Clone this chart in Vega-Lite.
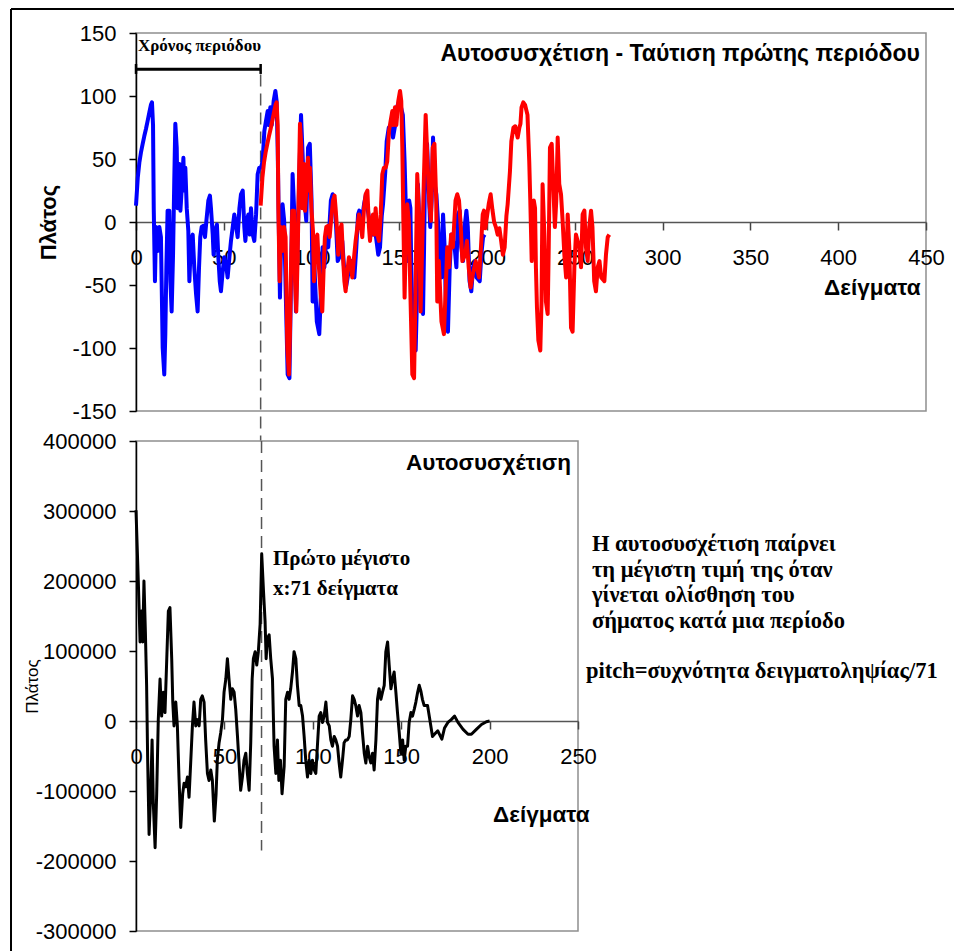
{
  "$schema": "https://vega.github.io/schema/vega-lite/v6.json",
  "autosize": {"type": "pad"},
  "padding": {"left": 9, "top": 7, "right": 0, "bottom": 0},
  "background": "white",
  "spacing": 30,
  "bounds": "flush",
  "config": {
    "view": {"stroke": "#8f8f8f", "strokeWidth": 1.5},
    "axis": {
      "grid": false,
      "labelFont": "Liberation Sans",
      "labelFontSize": 22,
      "labelColor": "black",
      "titleFont": "Liberation Sans",
      "titleColor": "black",
      "labelOverlap": false,
      "labelBound": false,
      "labelFlush": false
    },
    "text": {"color": "black"}
  },
  "datasets": {
    "one": [{}],
    "blue": [
      {"n":0,"v":13},{"n":1,"v":35},{"n":1.9,"v":47},{"n":2.8,"v":55},{"n":3.8,"v":62},{"n":4.7,"v":68},{"n":5.7,"v":74},{"n":6.6,"v":80},{"n":7.6,"v":87},{"n":8.5,"v":93},{"n":9.1,"v":95},{"n":9.7,"v":77},{"n":10.1,"v":11},{"n":10.8,"v":-47},{"n":11.4,"v":-4},{"n":12.3,"v":-23},{"n":13.3,"v":-4},{"n":14.2,"v":-12},{"n":14.6,"v":-47},{"n":15.2,"v":-100},{"n":16.1,"v":-121},{"n":16.7,"v":-89},{"n":17.3,"v":-36},{"n":18,"v":9},{"n":19,"v":9},{"n":19.6,"v":-47},{"n":20.3,"v":-71},{"n":21.1,"v":-26},{"n":21.8,"v":33},{"n":22.4,"v":78},{"n":23.2,"v":59},{"n":23.7,"v":11},{"n":24.7,"v":46},{"n":25.3,"v":9},{"n":26,"v":25},{"n":27,"v":51},{"n":27.5,"v":25},{"n":28.1,"v":43},{"n":28.9,"v":11},{"n":29.8,"v":-7},{"n":30.4,"v":-47},{"n":31.3,"v":-15},{"n":32.3,"v":-10},{"n":33.2,"v":-36},{"n":34.2,"v":-57},{"n":35.1,"v":-71},{"n":35.9,"v":-36},{"n":36.6,"v":-12},{"n":37.4,"v":-4},{"n":38.5,"v":-3},{"n":39.3,"v":-12},{"n":40.1,"v":1},{"n":41.2,"v":17},{"n":42.1,"v":21},{"n":42.7,"v":11},{"n":43.7,"v":-10},{"n":44.2,"v":-26},{"n":45,"v":-7},{"n":46.1,"v":-2},{"n":46.9,"v":-28},{"n":47.7,"v":-47},{"n":48.4,"v":-55},{"n":49.4,"v":-39},{"n":50.3,"v":-28},{"n":51.3,"v":-34},{"n":52.2,"v":-44},{"n":53.2,"v":-28},{"n":54.1,"v":-15},{"n":55.1,"v":-4},{"n":56,"v":6},{"n":56.9,"v":-2},{"n":57.9,"v":-12},{"n":58.9,"v":11},{"n":59.8,"v":22},{"n":60.8,"v":25},{"n":61.7,"v":-4},{"n":62.3,"v":-15},{"n":63.2,"v":1},{"n":64,"v":6},{"n":64.8,"v":-10},{"n":65.5,"v":11},{"n":66.5,"v":-10},{"n":67.4,"v":-15},{"n":68.4,"v":6},{"n":69.3,"v":38},{"n":70.2,"v":43},{"n":71.2,"v":43},{"n":72.1,"v":48},{"n":73.1,"v":72},{"n":74,"v":80},{"n":75,"v":88},{"n":75.6,"v":77},{"n":76.5,"v":91},{"n":77.3,"v":77},{"n":78.4,"v":96},{"n":79.4,"v":104},{"n":80.1,"v":96},{"n":80.7,"v":59},{"n":81.3,"v":1},{"n":82,"v":-60},{"n":82.6,"v":-20},{"n":83.5,"v":14},{"n":84.4,"v":1},{"n":85.3,"v":-57},{"n":86.4,"v":-121},{"n":87.4,"v":-124},{"n":88,"v":-73},{"n":89.2,"v":38},{"n":90.2,"v":6},{"n":91.1,"v":-71},{"n":92,"v":-20},{"n":93,"v":35},{"n":94,"v":85},{"n":95,"v":50},{"n":96,"v":17},{"n":97,"v":1},{"n":98,"v":59},{"n":99,"v":62},{"n":100,"v":17},{"n":100.6,"v":-63},{"n":101.5,"v":-31},{"n":103,"v":-79},{"n":104.4,"v":-89},{"n":105.3,"v":-57},{"n":106.3,"v":-20},{"n":107.3,"v":-36},{"n":108.5,"v":-10},{"n":109.5,"v":-20},{"n":111,"v":17},{"n":112,"v":22},{"n":113,"v":17},{"n":114,"v":-4},{"n":114.9,"v":-31},{"n":116.5,"v":-26},{"n":117.5,"v":-15},{"n":118.5,"v":-36},{"n":119.6,"v":-52},{"n":120.8,"v":-42},{"n":122.5,"v":-31},{"n":124.4,"v":-44},{"n":125.5,"v":-20},{"n":126.5,"v":6},{"n":127.2,"v":9},{"n":128,"v":-5},{"n":129,"v":5},{"n":130,"v":15},{"n":131,"v":22},{"n":132,"v":10},{"n":133,"v":0},{"n":134,"v":-4},{"n":135,"v":-10},{"n":136,"v":-5},{"n":137,"v":-15},{"n":138,"v":-26},{"n":139,"v":-20},{"n":140,"v":5},{"n":140.7,"v":14},{"n":142,"v":40},{"n":142.8,"v":64},{"n":144,"v":75},{"n":145,"v":76},{"n":146.4,"v":67},{"n":147.4,"v":75},{"n":148,"v":78},{"n":148.6,"v":91},{"n":149.6,"v":95},{"n":150.6,"v":93},{"n":152,"v":85},{"n":153,"v":48},{"n":153.6,"v":17},{"n":154.4,"v":-31},{"n":155.6,"v":17},{"n":156.3,"v":11},{"n":156.8,"v":-36},{"n":157.4,"v":-68},{"n":158.2,"v":-94},{"n":159.3,"v":-102},{"n":160,"v":-63},{"n":160.6,"v":30},{"n":161.6,"v":-10},{"n":162.5,"v":-63},{"n":163.5,"v":-73},{"n":164.1,"v":-20},{"n":164.8,"v":59},{"n":165.8,"v":62},{"n":166.3,"v":43},{"n":167.6,"v":-4},{"n":168.4,"v":17},{"n":169.2,"v":67},{"n":170.1,"v":30},{"n":171.1,"v":22},{"n":172,"v":1},{"n":173,"v":-26},{"n":174,"v":-44},{"n":174.9,"v":6},{"n":175.8,"v":-20},{"n":176.8,"v":-84},{"n":177.7,"v":-87},{"n":178.7,"v":-36},{"n":179.6,"v":-10},{"n":181.5,"v":-20},{"n":182.5,"v":-36},{"n":183.4,"v":6},{"n":184.4,"v":9},{"n":185.3,"v":-20},{"n":186.3,"v":-31},{"n":187.2,"v":-4},{"n":188.2,"v":9},{"n":189,"v":-4},{"n":190,"v":-47},{"n":191,"v":-55},{"n":192,"v":-36},{"n":193,"v":-31},{"n":194,"v":-44},{"n":195.8,"v":-47},{"n":196.7,"v":-26},{"n":197.7,"v":-12},{"n":198.6,"v":-10}
    ],
    "red": [
      {"n":71,"v":13},{"n":72,"v":35},{"n":72.9,"v":47},{"n":73.8,"v":55},{"n":74.8,"v":62},{"n":75.7,"v":68},{"n":76.7,"v":74},{"n":77.6,"v":80},{"n":78.6,"v":87},{"n":79.5,"v":93},{"n":80.1,"v":95},{"n":80.7,"v":77},{"n":81.1,"v":11},{"n":81.8,"v":-47},{"n":82.4,"v":-4},{"n":83.3,"v":-23},{"n":84.3,"v":-4},{"n":85.2,"v":-12},{"n":85.6,"v":-47},{"n":86.2,"v":-100},{"n":87.1,"v":-121},{"n":87.7,"v":-89},{"n":88.3,"v":-36},{"n":89,"v":9},{"n":90,"v":9},{"n":90.6,"v":-47},{"n":91.3,"v":-71},{"n":92.1,"v":-26},{"n":92.8,"v":33},{"n":93.4,"v":78},{"n":94.2,"v":59},{"n":94.7,"v":11},{"n":95.7,"v":46},{"n":96.3,"v":9},{"n":97,"v":25},{"n":98,"v":51},{"n":98.5,"v":25},{"n":99.1,"v":43},{"n":99.9,"v":11},{"n":100.8,"v":-7},{"n":101.4,"v":-47},{"n":102.3,"v":-15},{"n":103.3,"v":-10},{"n":104.2,"v":-36},{"n":105.2,"v":-57},{"n":106.1,"v":-71},{"n":106.9,"v":-36},{"n":107.6,"v":-12},{"n":108.4,"v":-4},{"n":109.5,"v":-3},{"n":110.3,"v":-12},{"n":111.1,"v":1},{"n":112.2,"v":17},{"n":113.1,"v":21},{"n":113.7,"v":11},{"n":114.7,"v":-10},{"n":115.2,"v":-26},{"n":116,"v":-7},{"n":117.1,"v":-2},{"n":117.9,"v":-28},{"n":118.7,"v":-47},{"n":119.4,"v":-55},{"n":120.4,"v":-39},{"n":121.3,"v":-28},{"n":122.3,"v":-34},{"n":123.2,"v":-44},{"n":124.2,"v":-28},{"n":125.1,"v":-15},{"n":126.1,"v":-4},{"n":127,"v":6},{"n":127.9,"v":-2},{"n":128.9,"v":-12},{"n":129.9,"v":11},{"n":130.8,"v":22},{"n":131.8,"v":25},{"n":132.7,"v":-4},{"n":133.3,"v":-15},{"n":134.2,"v":1},{"n":135,"v":6},{"n":135.8,"v":-10},{"n":136.5,"v":11},{"n":137.5,"v":-10},{"n":138.4,"v":-15},{"n":139.4,"v":6},{"n":140.3,"v":38},{"n":141.2,"v":43},{"n":142.2,"v":43},{"n":143.1,"v":48},{"n":144.1,"v":72},{"n":145,"v":80},{"n":146,"v":88},{"n":146.6,"v":77},{"n":147.5,"v":91},{"n":148.3,"v":77},{"n":149.4,"v":96},{"n":150.4,"v":104},{"n":151.1,"v":96},{"n":151.7,"v":59},{"n":152.3,"v":1},{"n":153,"v":-60},{"n":153.6,"v":-20},{"n":154.5,"v":14},{"n":155.4,"v":1},{"n":156.3,"v":-57},{"n":157.4,"v":-121},{"n":158.4,"v":-124},{"n":159,"v":-73},{"n":160.2,"v":38},{"n":161.2,"v":6},{"n":162.1,"v":-71},{"n":163,"v":-20},{"n":164,"v":35},{"n":165,"v":85},{"n":166,"v":50},{"n":167,"v":17},{"n":168,"v":1},{"n":169,"v":59},{"n":170,"v":62},{"n":171,"v":17},{"n":171.6,"v":-63},{"n":172.5,"v":-31},{"n":174,"v":-79},{"n":175.4,"v":-89},{"n":176.3,"v":-57},{"n":177.3,"v":-20},{"n":178.3,"v":-36},{"n":179.5,"v":-10},{"n":180.5,"v":-20},{"n":182,"v":17},{"n":183,"v":22},{"n":184,"v":17},{"n":185,"v":-4},{"n":185.9,"v":-31},{"n":187.5,"v":-26},{"n":188.5,"v":-15},{"n":189.5,"v":-36},{"n":190.6,"v":-52},{"n":191.8,"v":-42},{"n":193.5,"v":-31},{"n":195.4,"v":-44},{"n":196.5,"v":-20},{"n":197.5,"v":6},{"n":198.2,"v":9},{"n":199,"v":-5},{"n":200,"v":5},{"n":201,"v":15},{"n":202,"v":22},{"n":203,"v":10},{"n":204,"v":0},{"n":205,"v":-4},{"n":206,"v":-10},{"n":207,"v":-5},{"n":208,"v":-15},{"n":209,"v":-26},{"n":210,"v":-20},{"n":211,"v":5},{"n":211.7,"v":14},{"n":213,"v":40},{"n":213.8,"v":64},{"n":215,"v":75},{"n":216,"v":76},{"n":217.4,"v":67},{"n":218.4,"v":75},{"n":219,"v":78},{"n":219.6,"v":91},{"n":220.6,"v":95},{"n":221.6,"v":93},{"n":223,"v":85},{"n":224,"v":48},{"n":224.6,"v":17},{"n":225.4,"v":-31},{"n":226.6,"v":17},{"n":227.3,"v":11},{"n":227.8,"v":-36},{"n":228.4,"v":-68},{"n":229.2,"v":-94},{"n":230.3,"v":-102},{"n":231,"v":-63},{"n":231.6,"v":30},{"n":232.6,"v":-10},{"n":233.5,"v":-63},{"n":234.5,"v":-73},{"n":235.1,"v":-20},{"n":235.8,"v":59},{"n":236.8,"v":62},{"n":237.3,"v":43},{"n":238.6,"v":-4},{"n":239.4,"v":17},{"n":240.2,"v":67},{"n":241.1,"v":30},{"n":242.1,"v":22},{"n":243,"v":1},{"n":244,"v":-26},{"n":245,"v":-44},{"n":245.9,"v":6},{"n":246.8,"v":-20},{"n":247.8,"v":-84},{"n":248.7,"v":-87},{"n":249.7,"v":-36},{"n":250.6,"v":-10},{"n":252.5,"v":-20},{"n":253.5,"v":-36},{"n":254.4,"v":6},{"n":255.4,"v":9},{"n":256.3,"v":-20},{"n":257.3,"v":-31},{"n":258.2,"v":-4},{"n":259.2,"v":9},{"n":260,"v":-4},{"n":261,"v":-47},{"n":262,"v":-55},{"n":263,"v":-36},{"n":264,"v":-31},{"n":265,"v":-44},{"n":266.8,"v":-47},{"n":267.7,"v":-26},{"n":268.7,"v":-12},{"n":269.6,"v":-10}
    ],
    "acf": [
      {"n":0,"v":301000},{"n":1.3,"v":200000},{"n":2.3,"v":113000},{"n":3.2,"v":157000},{"n":3.8,"v":113000},{"n":4.5,"v":200000},{"n":5.3,"v":128000},{"n":6,"v":51000},{"n":6.6,"v":-56000},{"n":7.4,"v":-162000},{"n":8.3,"v":-104000},{"n":9.1,"v":-27000},{"n":9.8,"v":-118000},{"n":10.8,"v":-181000},{"n":11.7,"v":-104000},{"n":12.6,"v":2000},{"n":13.6,"v":60000},{"n":14.5,"v":7000},{"n":15.5,"v":41000},{"n":16.4,"v":12000},{"n":17.4,"v":89000},{"n":18.3,"v":157000},{"n":19.2,"v":162000},{"n":20.2,"v":89000},{"n":20.8,"v":27000},{"n":21.5,"v":-7000},{"n":22.5,"v":27000},{"n":23.4,"v":-7000},{"n":24.3,"v":-80000},{"n":25.3,"v":-152000},{"n":26.4,"v":-104000},{"n":27.2,"v":-89000},{"n":28.1,"v":-94000},{"n":29.1,"v":-80000},{"n":30,"v":-109000},{"n":31,"v":-56000},{"n":31.9,"v":-7000},{"n":32.8,"v":27000},{"n":33.8,"v":-7000},{"n":34.7,"v":2000},{"n":35.7,"v":-7000},{"n":36.6,"v":31000},{"n":37.5,"v":36000},{"n":38.5,"v":27000},{"n":39.4,"v":-27000},{"n":40.4,"v":-75000},{"n":41.3,"v":-85000},{"n":42.3,"v":-70000},{"n":43.2,"v":-85000},{"n":44.3,"v":-143000},{"n":45.3,"v":-104000},{"n":46,"v":-56000},{"n":47,"v":-31000},{"n":47.9,"v":-17000},{"n":48.9,"v":2000},{"n":49.8,"v":41000},{"n":50.8,"v":60000},{"n":51.7,"v":89000},{"n":52.6,"v":60000},{"n":53.6,"v":31000},{"n":54.5,"v":46000},{"n":55.5,"v":41000},{"n":56.4,"v":17000},{"n":57.4,"v":-22000},{"n":58.3,"v":-60000},{"n":59.2,"v":-99000},{"n":60.2,"v":-80000},{"n":61.1,"v":-56000},{"n":62.1,"v":-46000},{"n":63,"v":-75000},{"n":64,"v":-99000},{"n":64.9,"v":-31000},{"n":65.7,"v":60000},{"n":66.4,"v":89000},{"n":67.4,"v":99000},{"n":68.3,"v":80000},{"n":69.2,"v":99000},{"n":70.2,"v":138000},{"n":71.1,"v":239000},{"n":72.1,"v":186000},{"n":73,"v":143000},{"n":73.6,"v":89000},{"n":74.3,"v":118000},{"n":75.3,"v":123000},{"n":76.2,"v":89000},{"n":77.2,"v":60000},{"n":78.1,"v":-36000},{"n":79.1,"v":-75000},{"n":80,"v":-27000},{"n":80.8,"v":-85000},{"n":81.7,"v":-56000},{"n":82.6,"v":-104000},{"n":83.8,"v":-65000},{"n":84.7,"v":31000},{"n":85.7,"v":41000},{"n":86.6,"v":31000},{"n":87.5,"v":46000},{"n":88.5,"v":70000},{"n":89.4,"v":99000},{"n":90.4,"v":89000},{"n":91.3,"v":51000},{"n":92.3,"v":22000},{"n":93.2,"v":22000},{"n":94.2,"v":7000},{"n":95.1,"v":-22000},{"n":96,"v":-56000},{"n":97,"v":-80000},{"n":97.9,"v":-56000},{"n":98.9,"v":-75000},{"n":99.8,"v":-56000},{"n":100.8,"v":-70000},{"n":101.7,"v":-75000},{"n":102.6,"v":-36000},{"n":103.6,"v":7000},{"n":104.5,"v":12000},{"n":105.5,"v":-2000},{"n":106.4,"v":7000},{"n":107.4,"v":27000},{"n":108.3,"v":-2000},{"n":109.3,"v":-7000},{"n":110.2,"v":-27000},{"n":111.1,"v":-36000},{"n":112.1,"v":-22000},{"n":113,"v":-27000},{"n":114,"v":-36000},{"n":114.9,"v":-60000},{"n":115.8,"v":-80000},{"n":116.8,"v":-56000},{"n":117.7,"v":-31000},{"n":118.7,"v":-27000},{"n":119.6,"v":-27000},{"n":120.6,"v":-22000},{"n":121.5,"v":2000},{"n":122.5,"v":36000},{"n":123.4,"v":31000},{"n":124.3,"v":22000},{"n":125.3,"v":7000},{"n":126.2,"v":22000},{"n":127.2,"v":12000},{"n":128.1,"v":-17000},{"n":129.1,"v":-46000},{"n":130,"v":-60000},{"n":131,"v":-36000},{"n":131.9,"v":-51000},{"n":132.8,"v":-60000},{"n":133.8,"v":-46000},{"n":134.7,"v":-70000},{"n":135.7,"v":-27000},{"n":136.6,"v":31000},{"n":137.5,"v":46000},{"n":138.5,"v":31000},{"n":139.4,"v":41000},{"n":140.4,"v":51000},{"n":141.3,"v":99000},{"n":142.3,"v":113000},{"n":143.2,"v":80000},{"n":144.2,"v":46000},{"n":145.1,"v":60000},{"n":146,"v":70000},{"n":147,"v":41000},{"n":147.9,"v":12000},{"n":148.9,"v":-17000},{"n":149.8,"v":-46000},{"n":150.8,"v":-27000},{"n":151.7,"v":-56000},{"n":152.6,"v":-36000},{"n":153.6,"v":-36000},{"n":154.5,"v":-2000},{"n":155.5,"v":12000},{"n":156.4,"v":7000},{"n":157.4,"v":17000},{"n":158.3,"v":27000},{"n":159.3,"v":41000},{"n":160.2,"v":51000},{"n":161.1,"v":43000},{"n":162,"v":31000},{"n":163,"v":22000},{"n":164.9,"v":22000},{"n":166,"v":5000},{"n":167.7,"v":-22000},{"n":168.8,"v":-19000},{"n":170.7,"v":-14000},{"n":173,"v":-26000},{"n":174.5,"v":-10000},{"n":176.4,"v":-2000},{"n":178.3,"v":2000},{"n":180.2,"v":7000},{"n":182.1,"v":-2000},{"n":185,"v":-12000},{"n":187.8,"v":-19000},{"n":189.7,"v":-19000},{"n":192.5,"v":-12000},{"n":195.4,"v":-5000},{"n":198.2,"v":-1000},{"n":200,"v":0}
    ]
  },
  "vconcat": [
    {
      "width": 790,
      "height": 378,
      "layer": [
        {
          "data": {"name": "one"},
          "mark": {"type": "rule", "color": "black", "strokeWidth": 2},
          "encoding": {"x": {"datum": -71.2}, "x2": {"datum": 466}, "y": {"datum": 169}}
        },
        {
          "data": {"name": "one"},
          "mark": {"type": "rule", "color": "black", "strokeWidth": 2},
          "encoding": {"x": {"datum": -71.2}, "y": {"datum": 169}, "y2": {"datum": -579}}
        },
        {
          "data": {"name": "one"},
          "mark": {"type": "rule", "color": "#555555", "strokeWidth": 1.5, "strokeDash": [12, 7]},
          "encoding": {"x": {"datum": 71}, "y": {"datum": 117}, "y2": {"datum": -174}}
        },
        {
          "data": {"name": "blue"},
          "mark": {"type": "line", "color": "#0000ff", "strokeWidth": 4, "strokeJoin": "round"},
          "encoding": {
            "x": {
              "field": "n", "type": "quantitative",
              "scale": {"domain": [0, 450], "nice": false},
              "axis": {
                "values": [0, 50, 100, 150, 200, 250, 300, 350, 400, 450],
                "labelExpr": "'' + datum.value",
                "offset": -189,
                "domainColor": "#555555", "domainWidth": 1.5,
                "tickColor": "#444444", "tickSize": 8, "tickWidth": 1.5,
                "labelPadding": 17,
                "title": "Δείγματα", "titleFontSize": 22.5, "titleFontWeight": "bold",
                "titleX": 784, "titleY": 65, "titleAlign": "right", "titleBaseline": "middle"
              }
            },
            "y": {
              "field": "v", "type": "quantitative",
              "scale": {"domain": [-150, 150], "nice": false},
              "axis": {
                "values": [-150, -100, -50, 0, 50, 100, 150],
                "labelExpr": "'' + datum.value",
                "domainColor": "black", "domainWidth": 1.5,
                "tickColor": "black", "tickSize": 7, "tickWidth": 1.5,
                "labelPadding": 13,
                "title": "Πλάτος", "titleFontSize": 22, "titleFontWeight": "bold",
                "titleX": -88, "titleY": 189, "titleAngle": 270, "titleAlign": "center", "titleBaseline": "middle"
              }
            }
          }
        },
        {
          "data": {"name": "red"},
          "mark": {"type": "line", "color": "#ff0000", "strokeWidth": 4, "strokeJoin": "round"},
          "encoding": {
            "x": {"field": "n", "type": "quantitative"},
            "y": {"field": "v", "type": "quantitative"}
          }
        },
        {
          "data": {"name": "one"},
          "mark": {"type": "rule", "color": "black", "strokeWidth": 3},
          "encoding": {"x": {"datum": 0}, "x2": {"datum": 71}, "y": {"datum": 121.2}}
        },
        {
          "data": {"name": "one"},
          "mark": {"type": "rule", "color": "black", "strokeWidth": 2.5},
          "encoding": {"x": {"datum": 0}, "y": {"datum": 125.4}, "y2": {"datum": 117.5}}
        },
        {
          "data": {"name": "one"},
          "mark": {"type": "rule", "color": "black", "strokeWidth": 2.5},
          "encoding": {"x": {"datum": 71}, "y": {"datum": 125.4}, "y2": {"datum": 117.5}}
        },
        {
          "data": {"name": "one"},
          "mark": {"type": "text", "text": "Χρόνος περιόδου", "align": "left", "baseline": "middle", "font": "Liberation Serif", "fontSize": 17, "fontWeight": "bold", "dx": 2},
          "encoding": {"x": {"datum": 0}, "y": {"datum": 139.7}}
        },
        {
          "data": {"name": "one"},
          "mark": {"type": "text", "text": "Αυτοσυσχέτιση - Ταύτιση πρώτης περιόδου", "align": "right", "baseline": "middle", "font": "Liberation Sans", "fontSize": 23, "fontWeight": "bold", "dx": -6},
          "encoding": {"x": {"datum": 450}, "y": {"datum": 133.3}}
        }
      ]
    },
    {
      "width": 442,
      "height": 490,
      "layer": [
        {
          "data": {"name": "one"},
          "mark": {"type": "rule", "color": "#555555", "strokeWidth": 1.5, "strokeDash": [12, 7]},
          "encoding": {"x": {"datum": 71}, "y": {"datum": 400000}, "y2": {"datum": -185000}}
        },
        {
          "data": {"name": "acf"},
          "mark": {"type": "line", "color": "black", "strokeWidth": 3, "strokeJoin": "round"},
          "encoding": {
            "x": {
              "field": "n", "type": "quantitative",
              "scale": {"domain": [0, 250], "nice": false},
              "axis": {
                "values": [0, 50, 100, 150, 200, 250],
                "labelExpr": "'' + datum.value",
                "offset": -210,
                "domainColor": "#555555", "domainWidth": 1.5,
                "tickColor": "#444444", "tickSize": 8, "tickWidth": 1.5,
                "labelPadding": 17,
                "title": "Δείγματα", "titleFontSize": 22.5, "titleFontWeight": "bold",
                "titleX": 453, "titleY": 93, "titleAlign": "right", "titleBaseline": "middle"
              }
            },
            "y": {
              "field": "v", "type": "quantitative",
              "scale": {"domain": [-300000, 400000], "nice": false},
              "axis": {
                "values": [-300000, -200000, -100000, 0, 100000, 200000, 300000, 400000],
                "labelExpr": "'' + datum.value",
                "domainColor": "black", "domainWidth": 1.5,
                "tickColor": "black", "tickSize": 7, "tickWidth": 1.5,
                "labelPadding": 13,
                "title": "Πλάτος", "titleFontSize": 17, "titleFontWeight": "normal",
                "titleX": -104, "titleY": 245, "titleAngle": 270, "titleAlign": "center", "titleBaseline": "middle"
              }
            }
          }
        },
        {
          "data": {"name": "one"},
          "mark": {"type": "text", "text": "Αυτοσυσχέτιση", "align": "right", "baseline": "middle", "font": "Liberation Sans", "fontSize": 22.5, "fontWeight": "bold", "dx": -7},
          "encoding": {"x": {"datum": 250}, "y": {"datum": 369000}}
        },
        {
          "data": {"name": "one"},
          "mark": {"type": "text", "text": "Πρώτο μέγιστο", "align": "left", "baseline": "middle", "font": "Liberation Serif", "fontSize": 21, "fontWeight": "bold"},
          "encoding": {"x": {"datum": 77.5}, "y": {"datum": 231400}}
        },
        {
          "data": {"name": "one"},
          "mark": {"type": "text", "text": "x:71 δείγματα", "align": "left", "baseline": "middle", "font": "Liberation Serif", "fontSize": 21, "fontWeight": "bold"},
          "encoding": {"x": {"datum": 77.5}, "y": {"datum": 188600}}
        },
        {
          "data": {"name": "one"},
          "mark": {"type": "text", "text": "Η αυτοσυσχέτιση παίρνει\nτη μέγιστη τιμή της όταν\nγίνεται ολίσθηση του\nσήματος κατά μια περίοδο", "lineBreak": "\n", "lineHeight": 25.7, "align": "left", "baseline": "middle", "font": "Liberation Serif", "fontSize": 22.5, "fontWeight": "bold"},
          "encoding": {"x": {"datum": 257.9}, "y": {"datum": 252857}}
        },
        {
          "data": {"name": "one"},
          "mark": {"type": "text", "text": "pitch=συχνότητα δειγματοληψίας/71", "align": "left", "baseline": "middle", "font": "Liberation Serif", "fontSize": 22.5, "fontWeight": "bold"},
          "encoding": {"x": {"datum": 254.5}, "y": {"datum": 71400}}
        }
      ]
    }
  ]
}
